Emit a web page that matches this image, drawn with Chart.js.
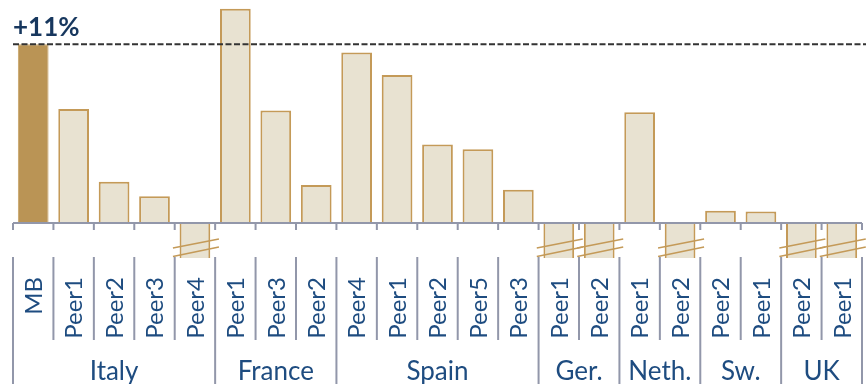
<!DOCTYPE html>
<html>
<head>
<meta charset="utf-8">
<script src="https://cdn.jsdelivr.net/npm/chart.js@4.4.1/dist/chart.umd.min.js"></script>
<style>
    body { margin: 0; background: #fff; }
    #wrap { width: 866px; height: 384px; position: relative; }
</style>
</head>
<body>
<div id="wrap"><canvas id="peerChart"></canvas></div>
<script>
// bar labels, left to right
const categories = ["MB", "Peer1", "Peer2", "Peer3", "Peer4",
    "Peer1", "Peer3", "Peer2",
    "Peer4", "Peer1", "Peer2", "Peer5", "Peer3",
    "Peer1", "Peer2",
    "Peer1", "Peer2",
    "Peer2", "Peer1",
    "Peer2", "Peer1"];
// % values; the negative ones run off the bottom of the chart (cut with the // marks)
const values = [11.0, 7.0, 2.5, 1.6, -3,
    13.2, 6.9, 2.3,
    10.5, 9.1, 4.8, 4.5, 2.0,
    -3, -3,
    6.8, -3,
    0.7, 0.65,
    -3, -3];
const countries = ["Italy", "France", "Spain", "Ger.", "Neth.", "Sw.", "UK"];
const countrySizes = [5, 3, 5, 2, 2, 2, 2];
const mbLevel = 11;
const mbLabel = "+11%";

const textBlue = "#1e4c80";
const gridGrey = "#9297aa";
const gold = "#c49a58";

function drawBottom(chart) {
    const ctx = chart.ctx;
    const x = chart.scales.x;
    const y = chart.scales.y;
    const area = chart.chartArea;
    const zero = y.getPixelForValue(0);
    const step = (area.right - area.left) / categories.length;
    const edge = i => area.left + i * step;

    ctx.save();
    // zero line with small ticks
    ctx.strokeStyle = gridGrey;
    ctx.lineWidth = 2;
    ctx.beginPath();
    ctx.moveTo(area.left, zero + 1);
    ctx.lineTo(area.right, zero + 1);
    for (let i = 0; i <= categories.length; i++) {
        ctx.moveTo(edge(i), zero + 1);
        ctx.lineTo(edge(i), zero + 8);
    }
    ctx.stroke();

    // separators under the bars
    let groupEdges = [0];
    countrySizes.forEach(n => groupEdges.push(groupEdges[groupEdges.length - 1] + n));
    ctx.beginPath();
    for (let i = 0; i <= categories.length; i++) {
        const long = groupEdges.includes(i);
        ctx.moveTo(edge(i), area.bottom - 1);
        ctx.lineTo(edge(i), long ? chart.height : area.bottom + 82);
    }
    ctx.stroke();

    // bar labels, rotated
    ctx.fillStyle = textBlue;
    ctx.font = "24px Lato";
    ctx.textAlign = "right";
    ctx.textBaseline = "middle";
    categories.forEach((c, i) => {
        ctx.save();
        ctx.translate(x.getPixelForValue(i) + 1, area.bottom + 19);
        ctx.rotate(-Math.PI / 2);
        ctx.fillText(c, 0, 0);
        ctx.restore();
    });

    // country labels
    ctx.font = "26px Lato";
    ctx.textAlign = "center";
    ctx.textBaseline = "alphabetic";
    countries.forEach((c, g) => {
        const mid = (edge(groupEdges[g]) + edge(groupEdges[g + 1])) / 2;
        ctx.fillText(c, mid, chart.height - 4);
    });
    ctx.restore();
}

function drawBreaks(chart) {
    const ctx = chart.ctx;
    const meta = chart.getDatasetMeta(0);
    const bottom = chart.chartArea.bottom;
    const yMin = chart.scales.y.min;
    ctx.save();
    ctx.strokeStyle = gold;
    ctx.lineWidth = 1.5;
    values.forEach((v, i) => {
        if (v >= yMin) return;
        const cx = meta.data[i].x;
        ctx.beginPath();
        ctx.moveTo(cx - 22, bottom - 10);
        ctx.lineTo(cx + 24, bottom - 19);
        ctx.moveTo(cx - 22, bottom - 1.5);
        ctx.lineTo(cx + 24, bottom - 11);
        ctx.stroke();
    });
    ctx.restore();
}

function drawMbLine(chart) {
    const ctx = chart.ctx;
    const yPos = chart.scales.y.getPixelForValue(mbLevel);
    ctx.save();
    ctx.strokeStyle = "#333";
    ctx.lineWidth = 2;
    ctx.setLineDash([6, 2.5]);
    ctx.beginPath();
    ctx.moveTo(chart.chartArea.left, yPos);
    ctx.lineTo(chart.width, yPos);
    ctx.stroke();
    ctx.setLineDash([]);
    ctx.fillStyle = "#17375e";
    ctx.font = "bold 26px Lato";
    ctx.textAlign = "left";
    ctx.textBaseline = "alphabetic";
    ctx.fillText(mbLabel, chart.chartArea.left, yPos - 8);
    ctx.restore();
}

const decorations = {
    id: "decorations",
    afterDatasetsDraw(chart) {
        drawBreaks(chart);
        drawBottom(chart);
        drawMbLine(chart);
    }
};

new Chart(document.getElementById("peerChart"), {
    type: "bar",
    data: {
        labels: categories,
        datasets: [{
            data: values,
            backgroundColor: values.map((v, i) => i === 0 ? "#ba9455" : "#e8e2d1"),
            borderColor: values.map((v, i) => i === 0 ? "#c8a467" : gold),
            borderWidth: values.map((v, i) => i === 0 ? 1 : 2),
            barPercentage: 0.76,
            categoryPercentage: 1,
            clip: 0
        }]
    },
    options: {
        responsive: true,
        maintainAspectRatio: false,
        animation: false,
        layout: { padding: { left: 13, right: 4, top: 0, bottom: 126 } },
        plugins: { legend: { display: false }, tooltip: { enabled: false } },
        scales: {
            x: { display: false },
            y: { display: false, min: -2.22, max: 13.74 }
        }
    },
    plugins: [decorations]
});
</script>
</body>
</html>
